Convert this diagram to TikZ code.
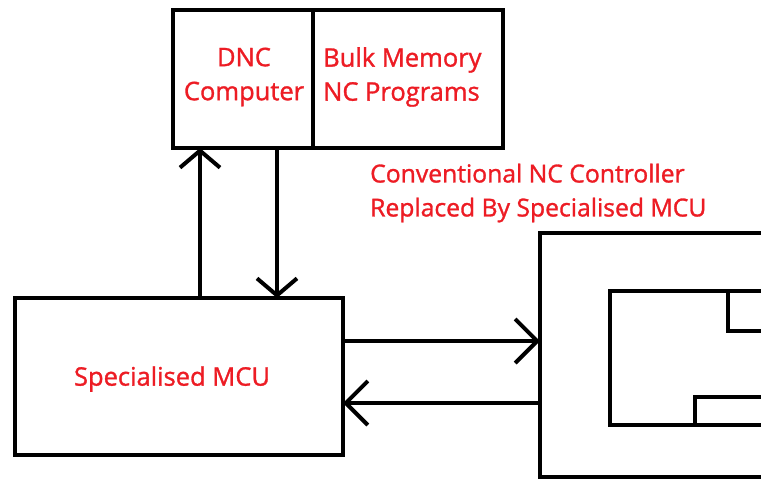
\documentclass[tikz,border=0pt]{standalone}
\usepackage{fontspec}
\setmainfont[FakeBold=1.2]{Open Sans}
\usetikzlibrary{arrows.meta}
\definecolor{lblred}{RGB}{237,28,36}
\tikzset{
  blk/.style={draw=black,line width=4pt,fill=none},
  lbl/.style={text=lblred,font=\fontsize{25.5}{34}\selectfont,align=center,inner sep=0pt},
  conn/.style={line width=4pt},
  vtip/.style={-{Straight Barb[length=17pt,width=40pt,line width=4pt]}},
  htip/.style={-{Straight Barb[length=22pt,width=44pt,line width=4pt]}}
}
\begin{document}
\begin{tikzpicture}[x=1pt,y=-1pt]
\useasboundingbox (0,0) rectangle (761,480);
\fill[white] (0,0) rectangle (761,480);
\clip (0,0) rectangle (761,480);
% top boxes
\draw[blk] (173,10) rectangle (313,148);
\draw[blk] (313,10) rectangle (503,148);
\node[lbl] (dnc) at (244,77) {DNC\\Computer};
\node[lbl,anchor=west,align=left] (bulk) at (323,77) {Bulk Memory\\NC Programs};
\coordinate (dncbot1) at (200,148);
\coordinate (dncbot2) at (277,148);
% MCU
\draw[blk] (15,298) rectangle (343,455);
\node[lbl] (mcu) at (172,379) {Specialised MCU};
\coordinate (mcutop1) at (200,298);
\coordinate (mcutop2) at (277,298);
\coordinate (mcur1) at (343,341);
\coordinate (mcur2) at (343,403);
% machine
\draw[blk] (540,233) rectangle (800,477);
\draw[blk] (610,291) rectangle (800,425);
\draw[blk] (728,291) rectangle (800,331);
\draw[blk] (695,397) rectangle (800,425);
\coordinate (mach1) at (540,341);
\coordinate (mach2) at (540,403);
% caption
\node[lbl,anchor=west,align=left,font=\fontsize{24.7}{34}\selectfont] (cap) at (370,193) {Conventional NC Controller\\Replaced By Specialised MCU};
% connectors
\draw[conn,vtip] (mcutop1) -- (dncbot1);
\draw[conn,vtip] (dncbot2) -- (mcutop2);
\draw[conn,htip] (mcur1) -- (mach1);
\draw[conn,htip] (mach2) -- (mcur2);
\end{tikzpicture}
\end{document}
